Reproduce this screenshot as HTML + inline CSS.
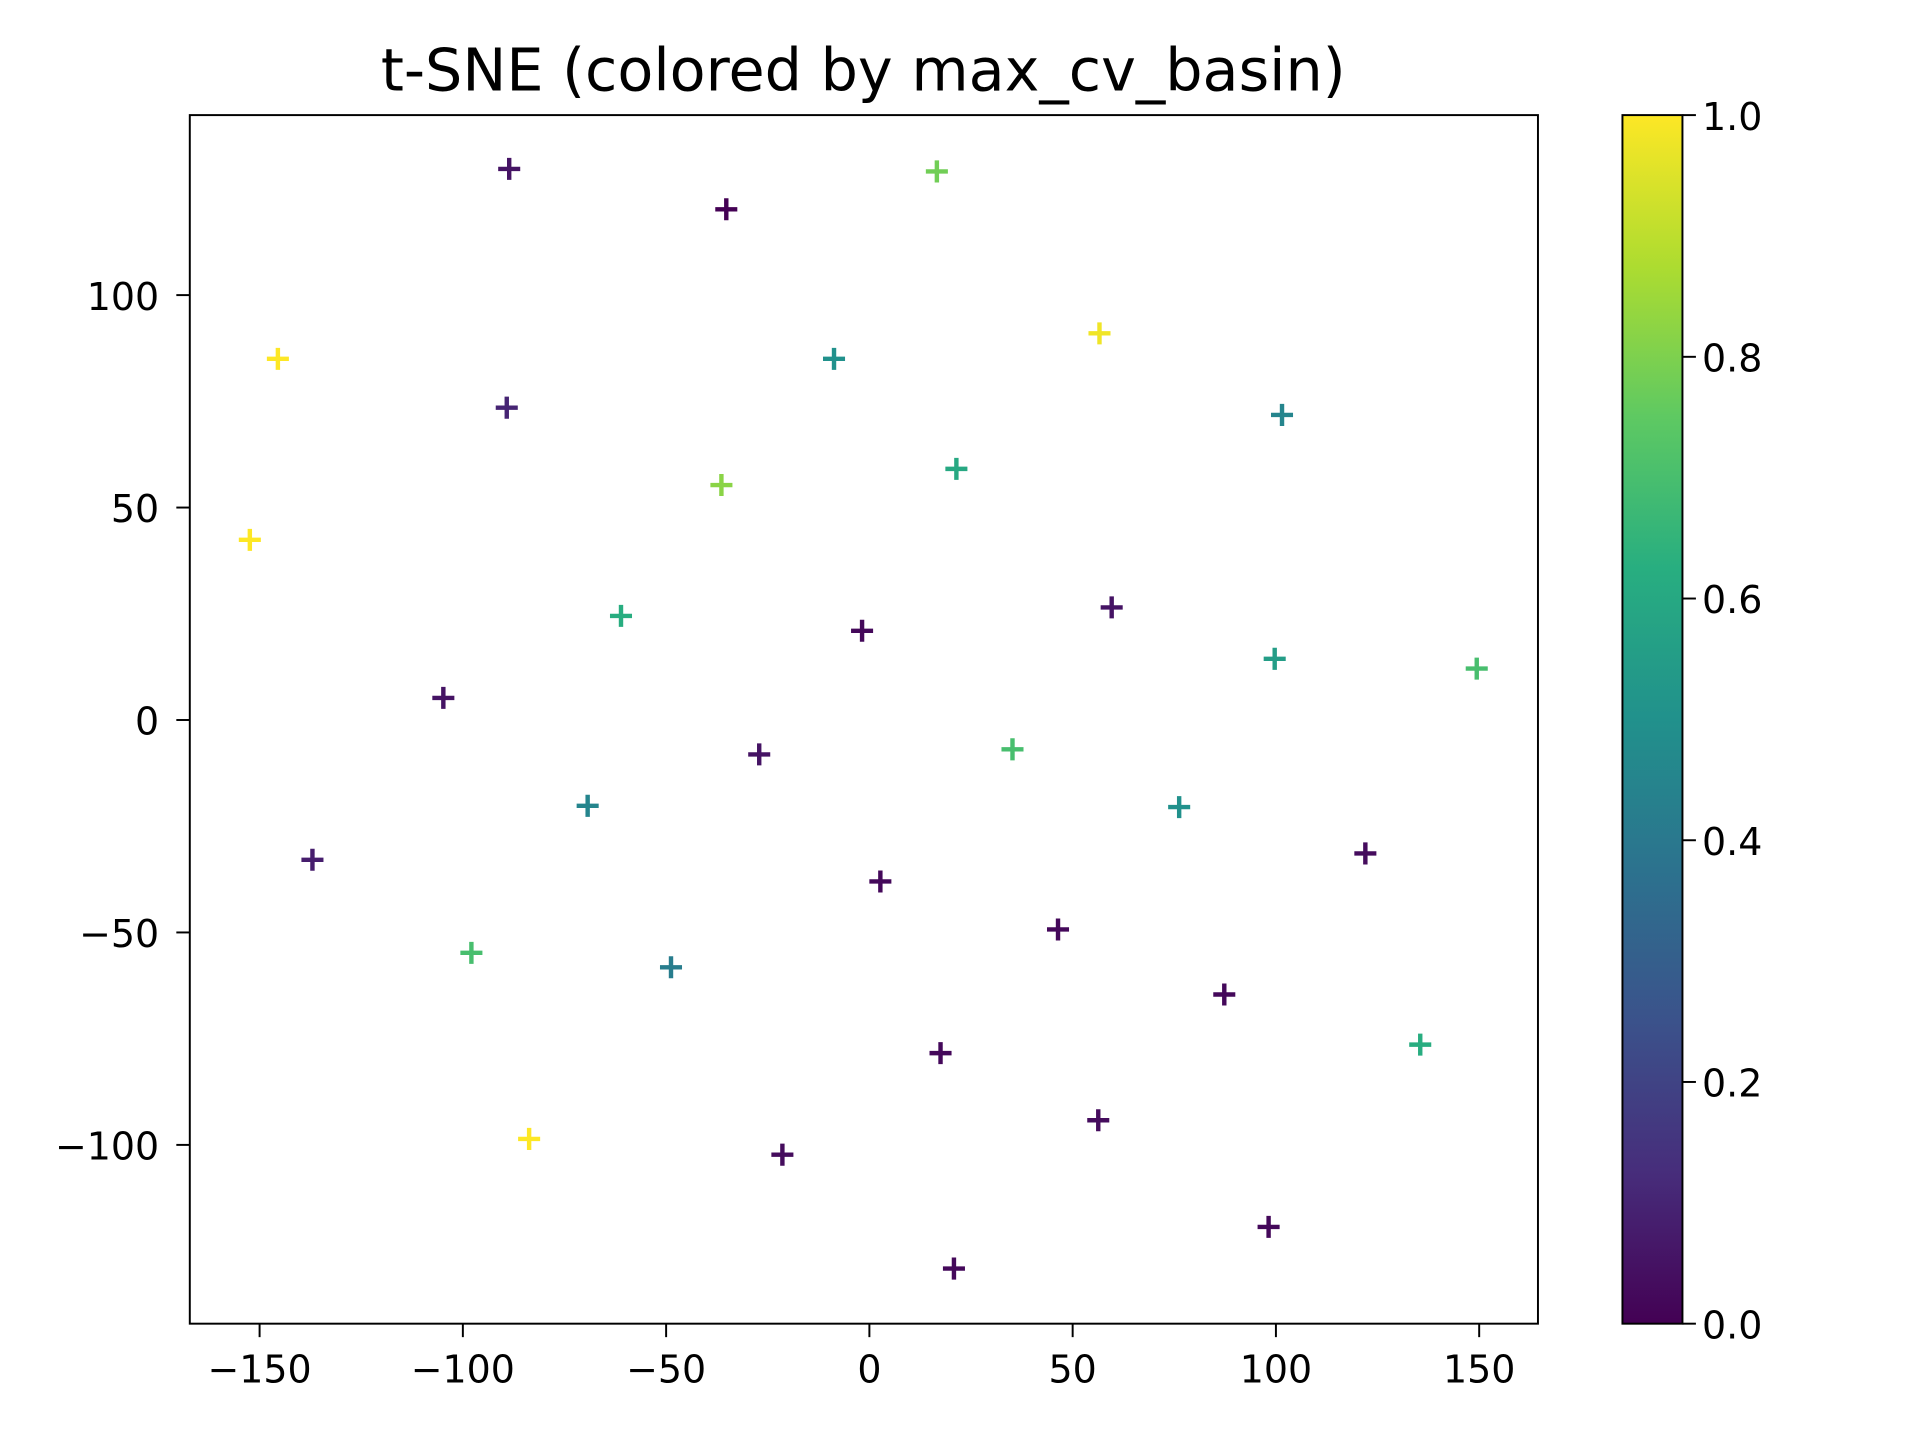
<!DOCTYPE html>
<html><head><meta charset="utf-8"><style>
html,body{margin:0;padding:0;background:#fff;}
svg{display:block;font-family:"DejaVu Sans","Liberation Sans",sans-serif;}
</style></head><body>
<svg id="chart" width="1920" height="1440" viewBox="0 0 1568 1176" preserveAspectRatio="none" xmlns="http://www.w3.org/2000/svg">
<defs>
<linearGradient id="vir" x1="0" y1="1" x2="0" y2="0">
<stop offset="0" stop-color="#440154"/><stop offset="0.125" stop-color="#472d7b"/><stop offset="0.25" stop-color="#3b528b"/><stop offset="0.375" stop-color="#2c728e"/><stop offset="0.5" stop-color="#21918c"/><stop offset="0.625" stop-color="#28ae80"/><stop offset="0.75" stop-color="#5ec962"/><stop offset="0.875" stop-color="#addc30"/><stop offset="1" stop-color="#fde725"/>
</linearGradient>
</defs>
<text x="705" y="74" font-size="48" text-anchor="middle">t-SNE (colored by max_cv_basin)</text>
<g id="marks"></g>
<rect x="155" y="94" width="1101" height="987" fill="none" stroke="#000" stroke-width="1.6"/>
<g id="xticks"></g><g id="yticks"></g>
<rect x="1325" y="94" width="49" height="987" fill="url(#vir)" stroke="#000" stroke-width="1.6"/>
<g id="cticks"></g>
</svg>
<script>
const xs=[-88.6,-35.2,16.6,-145.5,56.6,-8.7,-89.2,101.5,-36.4,21.4,-152.4,-61.1,-1.8,59.6,99.7,149.4,-104.8,-27.1,35.2,-69.3,76.2,-137,122,2.7,-97.9,-48.8,46.4,87.3,135.5,17.5,-83.7,-21.4,56.3,98.2,20.8];
const ys=[129.7,120.2,129.1,85,91,85,73.5,71.8,55.3,59.1,42.4,24.5,21,26.5,14.4,12.1,5.2,-8.1,-6.9,-20.2,-20.5,-32.9,-31.4,-38,-54.8,-58.2,-49.3,-64.6,-76.4,-78.4,-98.6,-102.3,-94.2,-119.3,-129.1];
const cs=[0.05,0.0,0.78,1.0,0.98,0.5,0.1,0.45,0.82,0.6,1.0,0.62,0.02,0.05,0.55,0.7,0.05,0.05,0.7,0.45,0.5,0.08,0.03,0.02,0.7,0.42,0.02,0.02,0.62,0.02,1.0,0.03,0.03,0.02,0.02];
const xTicks=[-150,-100,-50,0,50,100,150];
const yTicks=[-100,-50,0,50,100];
const cTicks=[0,0.2,0.4,0.6,0.8,1.0];
const NS="http://www.w3.org/2000/svg";
function sx(v){return 710+v*3.32;}
function sy(v){return 588-v*3.47;}
function sc(v){return 1081-v*987;}
const VS=[[68,1,84],[71,45,123],[59,82,139],[44,114,142],[33,145,140],[40,174,128],[94,201,98],[173,220,48],[253,231,37]];
function vir(t){t=Math.max(0,Math.min(1,t))*8;const i=Math.min(7,Math.floor(t)),f=t-i;const a=VS[i],b=VS[i+1];return`rgb(${a.map((c,k)=>Math.round(c+(b[k]-c)*f)).join(',')})`;}
function mk(tag,at,par){const e=document.createElementNS(NS,tag);for(const k in at)e.setAttribute(k,at[k]);par.appendChild(e);return e;}
const fmt=v=>v<0?'\u2212'+(-v):''+v;
const marks=document.getElementById('marks');
xs.forEach((x,i)=>{const X=sx(x),Y=sy(ys[i]),col=vir(cs[i]);
const p=mk('path',{d:`M${X-9} ${Y}H${X+9}M${X} ${Y-9}V${Y+9}`,stroke:col,'stroke-width':3.6,fill:'none'},marks);

});
const xt=document.getElementById('xticks');
xTicks.forEach(v=>{const X=sx(v);mk('line',{x1:X,x2:X,y1:1081,y2:1092,stroke:'#000','stroke-width':1.6},xt);
const t=mk('text',{x:X,y:1129,'font-size':31,'text-anchor':'middle'},xt);t.textContent=fmt(v);

});
const yt=document.getElementById('yticks');
yTicks.forEach(v=>{const Y=sy(v);mk('line',{x1:144,x2:155,y1:Y,y2:Y,stroke:'#000','stroke-width':1.6},yt);
const t=mk('text',{x:130,y:Y+12,'font-size':31,'text-anchor':'end'},yt);t.textContent=fmt(v);

});
const ct=document.getElementById('cticks');
cTicks.forEach(v=>{const Y=sc(v);mk('line',{x1:1374,x2:1385,y1:Y,y2:Y,stroke:'#000','stroke-width':1.6},ct);
const t=mk('text',{x:1390,y:Y+12,'font-size':31},ct);t.textContent=v.toFixed(1);

});
</script>
</body></html>
